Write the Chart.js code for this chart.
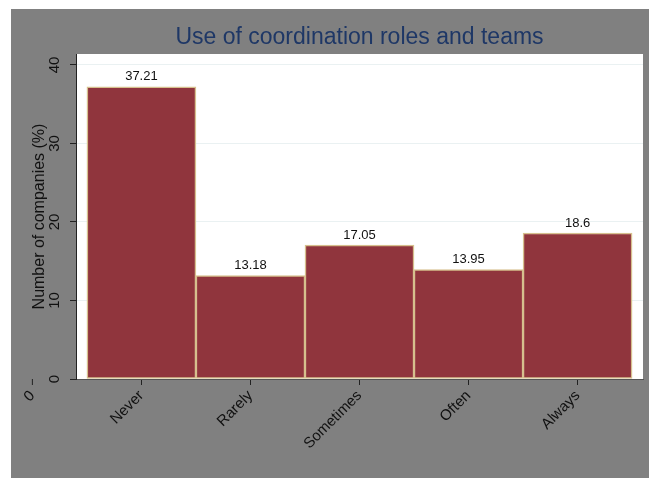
<!DOCTYPE html>
<html>
<head>
<meta charset="utf-8">
<title>Use of coordination roles and teams</title>
<script src="https://cdn.jsdelivr.net/npm/chart.js@4.4.1/dist/chart.umd.min.js"></script>
<style>
    html, body { margin: 0; padding: 0; background: #ffffff; }
    #wrap { width: 649px; height: 478px; }
</style>
</head>
<body>
<div id="wrap"><canvas id="grafico" width="649" height="478"></canvas></div>
<script>
// ==========================================
// DATA
// ==========================================
const categories = ['Never', 'Rarely', 'Sometimes', 'Often', 'Always'];
const shares = [37.21, 13.18, 17.05, 13.95, 18.6];   // % of companies
const yTicks = [0, 10, 20, 30, 40];
const strayTicks = [{ value: -1, label: '0' }];      // lone x tick left of the plot

const FONT = "'Liberation Sans', Arial, sans-serif";

document.addEventListener('DOMContentLoaded', () => {
    drawChart();
});

// grey page + white plot region
const backgroundPlugin = {
    id: 'background',
    beforeDraw(chart) {
        const { ctx, chartArea: a } = chart;
        ctx.save();
        ctx.fillStyle = '#808080';
        ctx.fillRect(11, 9, chart.width - 11, chart.height - 9);
        ctx.fillStyle = '#ffffff';
        ctx.fillRect(a.left, a.top, a.right - a.left, a.bottom - a.top);
        ctx.restore();
    }
};

// value above every bar
const valueLabelsPlugin = {
    id: 'valueLabels',
    afterDatasetsDraw(chart) {
        const ctx = chart.ctx;
        const meta = chart.getDatasetMeta(0);
        ctx.save();
        ctx.font = '13px ' + FONT;
        ctx.fillStyle = '#111111';
        ctx.textAlign = 'center';
        ctx.textBaseline = 'middle';
        meta.data.forEach((bar, i) => {
            ctx.fillText(String(shares[i]), bar.x, bar.y - 10);
        });
        ctx.restore();
    }
};

// the extra "0" tick that sits outside the plot area
const strayTickPlugin = {
    id: 'strayTick',
    afterDraw(chart) {
        const xScale = chart.scales.x;
        const ctx = chart.ctx;
        strayTicks.forEach(t => {
            const px = xScale.getPixelForValue(t.value);
            ctx.save();
            ctx.strokeStyle = '#222222';
            ctx.lineWidth = 1;
            ctx.beginPath();
            ctx.moveTo(px, xScale.top);
            ctx.lineTo(px, xScale.top + 6);
            ctx.stroke();
            ctx.translate(px - 6.4, xScale.top + 8);
            ctx.rotate(-Math.PI / 4);
            ctx.font = '15px ' + FONT;
            ctx.fillStyle = '#111111';
            ctx.textAlign = 'right';
            ctx.textBaseline = 'middle';
            ctx.fillText(t.label, 0, 9);
            ctx.restore();
        });
    }
};

function drawChart() {
    const canvas = document.getElementById('grafico');
    if (!canvas) return;

    Chart.defaults.font.family = FONT;

    new Chart(canvas.getContext('2d'), {
        type: 'bar',
        data: {
            datasets: [{
                data: shares.map((v, i) => ({ x: i, y: v })),
                backgroundColor: '#90353d',
                borderColor: '#d6c08e',
                borderWidth: 1.5,
                borderSkipped: false,
                barPercentage: 1,
                categoryPercentage: 1
            }]
        },
        options: {
            responsive: false,
            animation: false,
            devicePixelRatio: 1,
            layout: { padding: { top: 24, right: 6, left: 0, bottom: 0 } },
            plugins: {
                legend: { display: false },
                tooltip: { enabled: false },
                title: {
                    display: true,
                    text: 'Use of coordination roles and teams',
                    fullSize: false,
                    color: '#1e3766',
                    font: { size: 23, weight: 'normal', family: FONT },
                    padding: { top: 0, bottom: 2.4 }
                }
            },
            scales: {
                x: {
                    type: 'linear',
                    min: -0.6,
                    max: 4.6,
                    offset: false,
                    afterBuildTicks: s => { s.ticks = categories.map((_, i) => ({ value: i })); },
                    afterFit: s => { s.height = 99; },
                    grid: { offset: false, drawOnChartArea: false, drawTicks: true, tickLength: 6, tickColor: '#222222' },
                    border: { color: '#555555', width: 1 },
                    ticks: {
                        callback: v => categories[v],
                        autoSkip: false,
                        minRotation: 45,
                        maxRotation: 45,
                        padding: 2,
                        color: '#111111',
                        font: { size: 15 }
                    }
                },
                y: {
                    min: 0,
                    max: 41.4,
                    afterBuildTicks: s => { s.ticks = yTicks.map(v => ({ value: v })); },
                    afterFit: s => { s.width = 76; },
                    grid: { color: '#eaf1f2', tickColor: '#222222', tickLength: 6 },
                    border: { color: '#222222', width: 1 },
                    ticks: {
                        minRotation: 90,
                        maxRotation: 90,
                        crossAlign: 'center',
                        padding: 7,
                        color: '#111111',
                        font: { size: 15 }
                    },
                    title: {
                        display: true,
                        text: 'Number of companies (%)',
                        color: '#111111',
                        font: { size: 16 },
                        padding: { top: 30, bottom: 0 }
                    }
                }
            }
        },
        plugins: [backgroundPlugin, valueLabelsPlugin, strayTickPlugin]
    });
}
</script>
</body>
</html>
